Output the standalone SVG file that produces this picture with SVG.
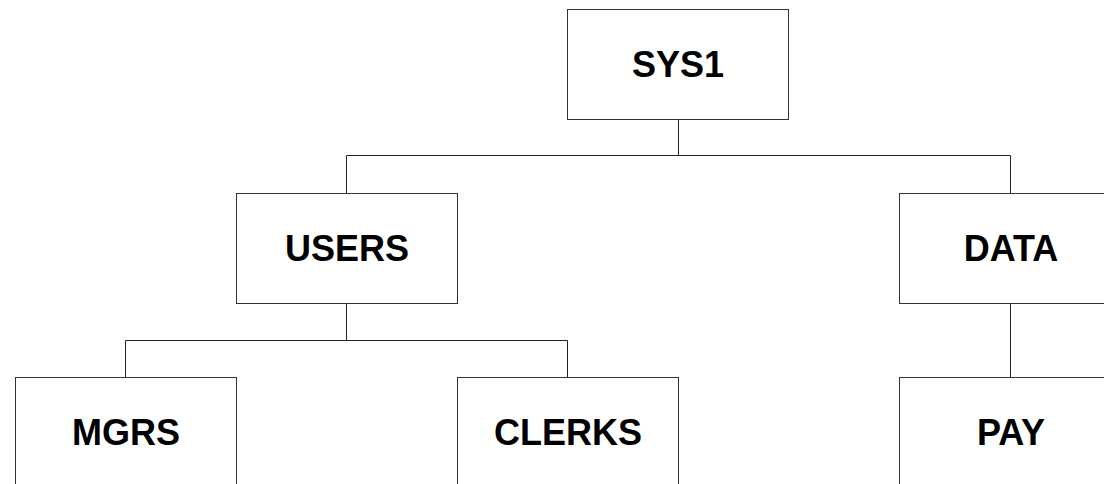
<svg xmlns="http://www.w3.org/2000/svg" width="1104" height="484" viewBox="0 0 1104 484">
  <style>
    .box { fill: #ffffff; stroke: #333333; stroke-width: 1; }
    .label { font-family: "Liberation Sans", Arial, sans-serif; font-weight: bold; font-size: 36px; fill: #000000; text-anchor: middle; }
    .conn { fill: none; stroke: #222222; stroke-width: 1; }
  </style>
  <rect width="1104" height="484" fill="#ffffff"/>

  <!-- tree connectors -->
  <g id="connectors">
    <path class="conn" d="M678.5,119.5 V155.5 M346.5,155.5 H1010.5 M346.5,155.5 V193.5 M1010.5,155.5 V193.5"/>
    <path class="conn" d="M346.5,303.5 V340.5 M125.5,340.5 H567.5 M125.5,340.5 V377.5 M567.5,340.5 V377.5"/>
    <path class="conn" d="M1010.5,303.5 V377.5"/>
  </g>

  <g id="sys1">
    <rect class="box" x="567.5" y="9.5" width="221" height="110"/>
    <text class="label" x="678" y="77">SYS1</text>
  </g>
  <g id="users">
    <rect class="box" x="236.5" y="193.5" width="221" height="110"/>
    <text class="label" x="347" y="261">USERS</text>
  </g>
  <g id="data">
    <rect class="box" x="899.5" y="193.5" width="221" height="110"/>
    <text class="label" x="1011" y="261">DATA</text>
  </g>
  <g id="mgrs">
    <rect class="box" x="15.5" y="377.5" width="221" height="110"/>
    <text class="label" x="126" y="445">MGRS</text>
  </g>
  <g id="clerks">
    <rect class="box" x="457.5" y="377.5" width="221" height="110"/>
    <text class="label" x="568" y="445">CLERKS</text>
  </g>
  <g id="pay">
    <rect class="box" x="899.5" y="377.5" width="221" height="110"/>
    <text class="label" x="1011" y="445">PAY</text>
  </g>
</svg>
